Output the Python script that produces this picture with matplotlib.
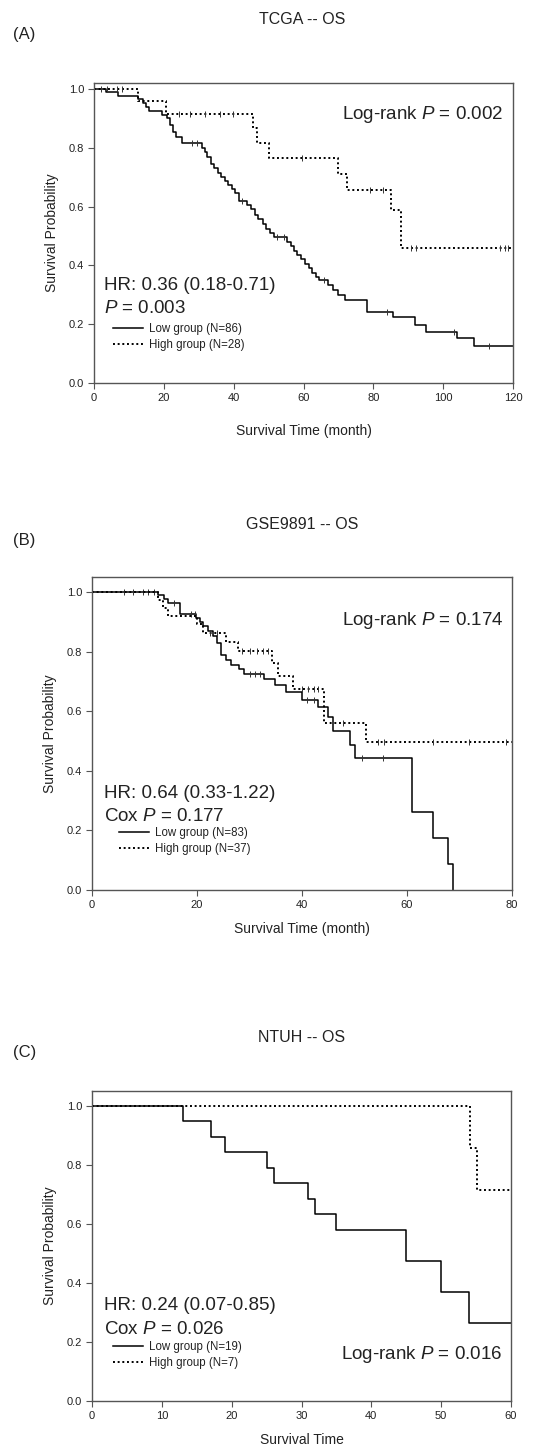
import numpy as np
import matplotlib
matplotlib.use("Agg")
import matplotlib.pyplot as plt

plt.rcParams['font.family'] = ['Liberation Sans', 'DejaVu Sans']
plt.rcParams['mathtext.fontset'] = 'custom'
plt.rcParams['mathtext.rm'] = 'Liberation Sans'
plt.rcParams['mathtext.it'] = 'Liberation Sans:italic'

## Panel A : TCGA -- OS
a_low_t = [3.5, 7.0, 12.5, 14.0, 15.0, 15.8, 19.5, 20.8, 21.7, 22.5, 23.5, 25.3,
           31.0, 31.8, 32.5, 33.5, 34.3, 35.5, 36.5, 37.5, 38.5, 39.5, 40.5, 41.5,
           43.7, 45.0, 46.0, 47.0, 48.4, 49.3, 50.5, 51.5, 55.3, 56.3, 57.2, 58.2,
           59.2, 60.5, 61.5, 62.5, 63.5, 64.5, 67.0, 68.5, 70.0, 72.0, 78.1, 85.6,
           91.8, 95.1, 104.1, 108.7]
a_low_s = [0.988, 0.976, 0.964, 0.952, 0.938, 0.925, 0.912, 0.900, 0.878, 0.855, 0.835, 0.815,
           0.800, 0.785, 0.770, 0.745, 0.730, 0.715, 0.700, 0.686, 0.672, 0.658, 0.645, 0.620,
           0.605, 0.590, 0.572, 0.556, 0.540, 0.525, 0.510, 0.497, 0.480, 0.465, 0.450, 0.435,
           0.420, 0.405, 0.390, 0.375, 0.360, 0.349, 0.332, 0.315, 0.298, 0.282, 0.243, 0.223,
           0.198, 0.175, 0.153, 0.127]
a_low_cens = [2.0, 28.0, 29.5, 42.3, 52.5, 54.5, 66.0, 84.0, 103.0, 113.0]
a_high_t = [12.5, 20.5, 45.5, 46.8, 50.0, 69.8, 72.6, 85.1, 87.9]
a_high_s = [0.960, 0.915, 0.866, 0.815, 0.764, 0.709, 0.655, 0.588, 0.458]
a_high_cens = [3.7, 6.6, 8.0, 24.4, 27.6, 31.8, 36.1, 39.8, 59.5, 79.0, 82.8, 90.7, 92.2,
               116.3, 117.8, 118.7]

## Panel B : GSE9891 -- OS
b_low_t = [12.6, 13.7, 14.5, 16.7, 19.9, 20.5, 21.1, 22.0, 23.0, 23.9, 24.5, 25.5,
           26.5, 28.0, 29.0, 32.8, 34.8, 36.9, 40.0, 43.0, 44.9, 45.9, 49.1, 50.0,
           60.9, 64.9, 67.9, 68.8]
b_low_s = [0.988, 0.976, 0.963, 0.925, 0.912, 0.898, 0.884, 0.870, 0.852, 0.827, 0.787, 0.770,
           0.755, 0.740, 0.726, 0.707, 0.688, 0.663, 0.638, 0.613, 0.582, 0.532, 0.485, 0.443,
           0.263, 0.176, 0.088, 0.0]
b_low_cens = [6.0, 7.8, 9.7, 10.7, 11.8, 15.7, 18.8, 19.7, 30.0, 31.0, 32.0, 41.0, 42.2,
              51.5, 55.5]
b_high_t = [12.6, 13.6, 14.5, 20.0, 21.1, 25.6, 27.8, 34.3, 35.4, 38.3, 44.1, 52.2]
b_high_s = [0.973, 0.946, 0.918, 0.891, 0.862, 0.831, 0.803, 0.763, 0.717, 0.674, 0.561, 0.496]
b_high_cens = [22.5, 23.8, 28.5, 30.0, 31.5, 32.5, 33.5, 40.0, 41.2, 42.2, 43.1, 47.8,
               54.4, 55.6, 65.0, 71.9, 78.9]

## Panel C : NTUH -- OS
c_low_t = [13, 17, 19, 25, 26, 31, 32, 35, 45, 50, 54]
c_low_s = [0.947, 0.895, 0.842, 0.789, 0.737, 0.684, 0.632, 0.579, 0.474, 0.368, 0.263]
c_high_t = [54.2, 55.2]
c_high_s = [0.857, 0.714]

TXT = '#222222'
GRAY = '#555555'


def km_steps(times, surv, t_end):
    t = np.concatenate([[0.0], times, [t_end]])
    s = np.concatenate([[1.0], surv, [surv[-1]]])
    return t, s


def censor_y(t, s, cens):
    idx = np.searchsorted(t, cens, side='right') - 1
    return s[idx]


def draw_panel(ax, low, high, xmax, xstep, ytop, labels, xlabel, labelpad):
    t, s = km_steps(*low[:2], low[2])
    h_low, = ax.step(t, s, where='post', color='black', lw=1.1, label=labels[0])
    if low[3]:
        ax.plot(low[3], censor_y(t, s, low[3]), ls='none', marker='|', ms=4, mew=0.7,
                color='#333333')
    t2, s2 = km_steps(*high[:2], high[2])
    h_high, = ax.step(t2, s2, where='post', color='black', lw=1.4, ls=(0, (1, 1.4)),
                      label=labels[1])
    if high[3]:
        ax.plot(high[3], censor_y(t2, s2, high[3]), ls='none', marker='|', ms=4, mew=0.7,
                color='#333333')

    ax.set_xlim(0, xmax)
    ax.set_ylim(0, ytop)
    ax.set_xticks(np.arange(0, xmax + 1, xstep))
    ax.set_yticks([0.0, 0.2, 0.4, 0.6, 0.8, 1.0])
    ax.yaxis.set_major_formatter(matplotlib.ticker.FormatStrFormatter('%.1f'))
    ax.tick_params(direction='out', length=4, width=0.8, colors=GRAY, labelsize=8,
                   labelcolor=TXT, pad=3)
    for sp in ax.spines.values():
        sp.set_color(GRAY)
        sp.set_linewidth(1.0)
    ax.set_xlabel(xlabel, fontsize=10, color=TXT, labelpad=labelpad)
    ax.set_ylabel('Survival Probability', fontsize=10, color=TXT, labelpad=7)
    return h_low, h_high


fig = plt.figure(figsize=(5.37, 14.5), dpi=100)

## A
axA = fig.add_axes([94 / 537, 1 - 383 / 1450, 419 / 537, 300 / 1450])
hl, hh = draw_panel(axA, (a_low_t, a_low_s, 120, a_low_cens),
                    (a_high_t, a_high_s, 120, a_high_cens), 120, 20, 1.02,
                    ['Low group (N=86)', 'High group (N=28)'], 'Survival Time (month)', 15)
axA.text(0.976, 0.912, 'Log-rank $P$ = 0.002', transform=axA.get_yaxis_transform(),
         fontsize=13.5, ha='right', va='center', color=TXT)
axA.text(0.024, 0.33, 'HR: 0.36 (0.18-0.71)', transform=axA.get_yaxis_transform(),
         fontsize=13.5, ha='left', va='center', color=TXT)
axA.text(0.024, 0.253, '$P$ = 0.003', transform=axA.get_yaxis_transform(),
         fontsize=13.5, ha='left', va='center', color=TXT)
axA.legend(handles=[hl, hh], loc='upper left', bbox_to_anchor=(0.045, 0.2), frameon=False,
           fontsize=8.3, handlelength=2.6, handletextpad=0.5, borderpad=0, borderaxespad=0,
           labelspacing=0.35, labelcolor=TXT)

## B
axB = fig.add_axes([92 / 537, 1 - 890 / 1450, 420 / 537, 313 / 1450])
hl, hh = draw_panel(axB, (b_low_t, b_low_s, 68.8, b_low_cens),
                    (b_high_t, b_high_s, 80, b_high_cens), 80, 20, 1.05,
                    ['Low group (N=83)', 'High group (N=37)'], 'Survival Time (month)', 9)
axB.text(0.979, 0.903, 'Log-rank $P$ = 0.174', transform=axB.get_yaxis_transform(),
         fontsize=13.5, ha='right', va='center', color=TXT)
axB.text(0.029, 0.325, 'HR: 0.64 (0.33-1.22)', transform=axB.get_yaxis_transform(),
         fontsize=13.5, ha='left', va='center', color=TXT)
axB.text(0.029, 0.248, 'Cox $P$ = 0.177', transform=axB.get_yaxis_transform(),
         fontsize=13.5, ha='left', va='center', color=TXT)
axB.legend(handles=[hl, hh], loc='upper left', bbox_to_anchor=(0.064, 0.2), frameon=False,
           fontsize=8.3, handlelength=2.6, handletextpad=0.5, borderpad=0, borderaxespad=0,
           labelspacing=0.35, labelcolor=TXT)

## C
axC = fig.add_axes([92 / 537, 1 - 1401 / 1450, 419 / 537, 310 / 1450])
hl, hh = draw_panel(axC, (c_low_t, c_low_s, 60, []),
                    (c_high_t, c_high_s, 60, []), 60, 10, 1.05,
                    ['Low group (N=19)', 'High group (N=7)'], 'Survival Time', 9)
axC.text(0.979, 0.159, 'Log-rank $P$ = 0.016', transform=axC.get_yaxis_transform(),
         fontsize=13.5, ha='right', va='center', color=TXT)
axC.text(0.029, 0.322, 'HR: 0.24 (0.07-0.85)', transform=axC.get_yaxis_transform(),
         fontsize=13.5, ha='left', va='center', color=TXT)
axC.text(0.029, 0.241, 'Cox $P$ = 0.026', transform=axC.get_yaxis_transform(),
         fontsize=13.5, ha='left', va='center', color=TXT)
axC.legend(handles=[hl, hh], loc='upper left', bbox_to_anchor=(0.05, 0.195), frameon=False,
           fontsize=8.3, handlelength=2.6, handletextpad=0.5, borderpad=0, borderaxespad=0,
           labelspacing=0.35, labelcolor=TXT)

## titles and panel letters
for title, letter, yt, yl in [('TCGA -- OS', '(A)', 20, 35),
                              ('GSE9891 -- OS', '(B)', 525, 540),
                              ('NTUH -- OS', '(C)', 1038, 1053)]:
    fig.text(302 / 537, 1 - yt / 1450, title, fontsize=11.5, ha='center', va='center',
             color=TXT)
    fig.text(13 / 537, 1 - yl / 1450, letter, fontsize=12, ha='left', va='center', color=TXT)

fig.savefig('out.png', dpi=100, facecolor='white')
